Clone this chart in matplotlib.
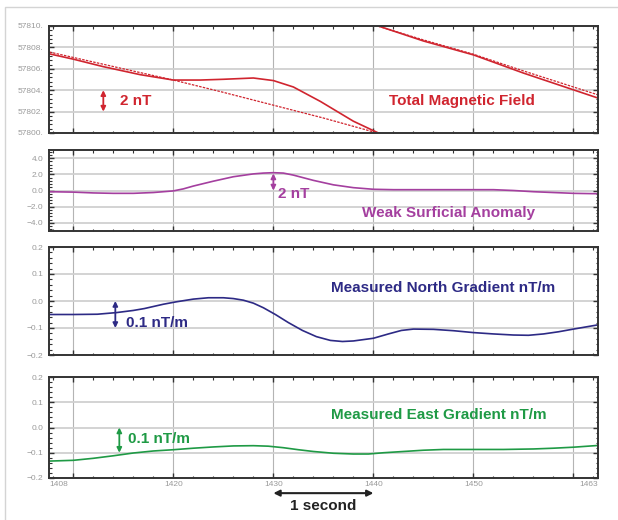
import matplotlib.pyplot as plt
from matplotlib.ticker import MultipleLocator, AutoMinorLocator, FuncFormatter
from matplotlib.patches import Rectangle

plt.rcParams['font.family'] = ['Liberation Sans', 'DejaVu Sans']

# fiducial range shown
x_min, x_max = 1407.57, 1462.45
x_grid = [1410, 1420, 1430, 1440, 1450, 1460]
x_ticklabels = ['', '1420', '1430', '1440', '1450', '']
x_end_labels = ['1408', '1463']

# total magnetic field (nT), measured and dashed trend
tmf_x = [1407.6, 1410, 1413, 1416.7, 1420, 1422.7, 1425, 1428, 1430, 1432,
         1434.7, 1438, 1440.5, 1445, 1450, 1455, 1462.5]
tmf_meas = [57807.4, 57806.9, 57806.2, 57805.45, 57804.95, 57804.95, 57805.02,
            57805.14, 57804.9, 57804.3, 57802.95, 57801.1, 57800.0, 57798.6,
            57797.3, 57795.6, 57793.25]
trend_x = [1407.6, 1415, 1420, 1425, 1430, 1435, 1440.4, 1445, 1450, 1455, 1462.5]
tmf_trend = [57807.57, 57806.0, 57804.95, 57803.8, 57802.6, 57801.4, 57800.0,
             57798.7, 57797.36, 57795.8, 57793.55]

# weak surficial anomaly (nT)
anom_x = [1407.6, 1410, 1412, 1414, 1416, 1418, 1420, 1421, 1422, 1424, 1426,
          1428, 1429, 1430, 1431, 1432, 1434, 1436, 1438, 1440, 1442, 1446,
          1450, 1452, 1454, 1456, 1458, 1460, 1462.5]
anom_y = [-0.15, -0.2, -0.3, -0.35, -0.35, -0.25, -0.05, 0.2, 0.55, 1.15, 1.7,
          2.05, 2.15, 2.2, 2.15, 1.9, 1.25, 0.7, 0.35, 0.15, 0.1, 0.1,
          0.1, 0.1, 0.0, -0.15, -0.25, -0.35, -0.4]

# measured north gradient (nT/m)
north_x = [1407.6, 1410, 1412.4, 1414.3, 1416, 1417.1, 1419, 1420.3, 1422,
           1423.5, 1425, 1426, 1427, 1428, 1429, 1430.2, 1431.5, 1432.9,
           1434.3, 1435.7, 1436.9, 1438, 1440, 1441.5, 1442.8, 1444, 1446,
           1448, 1450, 1452, 1454, 1455.5, 1457, 1458.5, 1460, 1462.5]
north_y = [-0.05, -0.05, -0.049, -0.043, -0.035, -0.028, -0.012, -0.003, 0.007,
           0.012, 0.012, 0.009, 0.003, -0.008, -0.025, -0.05, -0.08, -0.109,
           -0.132, -0.146, -0.15, -0.148, -0.138, -0.122, -0.109, -0.104, -0.105,
           -0.11, -0.117, -0.122, -0.126, -0.127, -0.122, -0.114, -0.104, -0.088]

# measured east gradient (nT/m)
east_x = [1407.6, 1410, 1412, 1414, 1416, 1418, 1420, 1422, 1424, 1426, 1428,
          1429.5, 1431, 1432.5, 1434, 1436, 1438, 1439.5, 1441, 1443, 1445,
          1447, 1450, 1453, 1456, 1458, 1460, 1462.5]
east_y = [-0.133, -0.13, -0.122, -0.112, -0.101, -0.093, -0.088, -0.082, -0.077,
          -0.073, -0.072, -0.074, -0.08, -0.088, -0.095, -0.102, -0.105, -0.105,
          -0.1, -0.095, -0.09, -0.087, -0.087, -0.087, -0.085, -0.082, -0.078,
          -0.071]

red = '#d0252f'
purple = '#a43f9f'
navy = '#2d2a85'
green = '#1f9a45'
label_font = ['Liberation Sans Narrow', 'Liberation Sans', 'DejaVu Sans']

fig = plt.figure(figsize=(6.18, 5.2), dpi=100)
fig.patches.append(Rectangle((5 / 618, -0.1), 1.2, 1 - 7 / 520 + 0.1,
                             transform=fig.transFigure, fill=False,
                             edgecolor='#d4d4d4', lw=1.0))

left, width = 49 / 618, 549 / 618
panels = [(133, 107), (231, 81), (355, 108), (478, 101)]  # bottom px, height px
axes = [fig.add_axes([left, (520 - b) / 520, width, h / 520]) for b, h in panels]


def style(ax, ylim, ymajor, fmt):
    ax.set_xlim(x_min, x_max)
    ax.set_ylim(*ylim)
    ax.set_xticks(x_grid)
    ax.xaxis.set_minor_locator(MultipleLocator(2))
    ax.yaxis.set_major_locator(MultipleLocator(ymajor))
    ax.yaxis.set_minor_locator(AutoMinorLocator(5))
    ax.yaxis.set_major_formatter(FuncFormatter(fmt))
    ax.grid(axis='x', color='#b4b4b4', lw=0.8)
    ax.grid(axis='y', color='#d0d0d0', lw=1.3)
    ax.tick_params(which='both', direction='in', top=True, right=True,
                   color='#333333')
    ax.tick_params(which='major', length=3.5, width=1.0)
    ax.tick_params(which='minor', length=1.8, width=0.8)
    ax.tick_params(axis='y', labelsize=6, labelcolor='#9a9a9a', pad=4)
    ax.tick_params(axis='x', labelsize=6, labelcolor='#9a9a9a', pad=2)
    ax.set_xticklabels([])
    for s in ax.spines.values():
        s.set_color('#333333')
        s.set_linewidth(1.4)


def double_arrow(ax, x, y0, y1, color):
    ax.annotate('', xy=(x, y0), xytext=(x, y1),
                arrowprops=dict(arrowstyle='<|-|>', color=color, lw=1.3,
                                mutation_scale=7, shrinkA=0, shrinkB=0))


# panel 1: total magnetic field, wrapped over a 10 nT window
ax = axes[0]
style(ax, (57800, 57810), 2, lambda v, p: f'{v:.0f}.')
for shift in (0, 10):
    ax.plot(tmf_x, [v + shift for v in tmf_meas], color=red, lw=1.2)
    ax.plot(trend_x, [v + shift for v in tmf_trend], color=red,
            lw=0.9, ls=(0, (2, 1)))
double_arrow(ax, 1413, 57802, 57804, red)
ax.text(1414.7, 57803.0, '2 nT', color=red, fontsize=11, fontweight='bold',
        va='center', family=label_font)
ax.text(1448.8, 57803.0, 'Total Magnetic Field', color=red, fontsize=11,
        fontweight='bold', va='center', ha='center', family=label_font)

# panel 2: weak surficial anomaly
ax = axes[1]
style(ax, (-5, 5), 2, lambda v, p: f'{v:.1f}'.replace('-', '\u2212'))
ax.plot(anom_x, anom_y, color=purple, lw=1.2)
double_arrow(ax, 1430, 0.0, 2.1, purple)
ax.text(1430.5, -0.4, '2 nT', color=purple, fontsize=11, fontweight='bold',
        va='center', family=label_font)
ax.text(1447.5, -2.8, 'Weak Surficial Anomaly', color=purple, fontsize=11,
        fontweight='bold', va='center', ha='center', family=label_font)

# panel 3: north gradient
ax = axes[2]
style(ax, (-0.2, 0.2), 0.1, lambda v, p: f'{v:.1f}'.replace('-', '\u2212'))
ax.plot(north_x, north_y, color=navy, lw=1.2)
double_arrow(ax, 1414.2, -0.1, 0.0, navy)
ax.text(1415.3, -0.082, '0.1 nT/m', color=navy, fontsize=11, fontweight='bold',
        va='center', family=label_font)
ax.text(1447, 0.05, 'Measured North Gradient nT/m', color=navy, fontsize=11,
        fontweight='bold', va='center', ha='center', family=label_font)

# panel 4: east gradient
ax = axes[3]
style(ax, (-0.2, 0.2), 0.1, lambda v, p: f'{v:.1f}'.replace('-', '\u2212'))
ax.plot(east_x, east_y, color=green, lw=1.2)
double_arrow(ax, 1414.6, -0.1, 0.0, green)
ax.text(1415.5, -0.045, '0.1 nT/m', color=green, fontsize=11, fontweight='bold',
        va='center', family=label_font)
ax.text(1446.5, 0.048, 'Measured East Gradient nT/m', color=green, fontsize=11,
        fontweight='bold', va='center', ha='center', family=label_font)
ax.set_xticklabels(x_ticklabels)
for xf, txt, ha in [(0, x_end_labels[0], 'left'), (1, x_end_labels[1], 'right')]:
    ax.text(xf, -0.03, txt, transform=ax.transAxes, fontsize=6,
            color='#9a9a9a', ha=ha, va='top')

# one second scale bar below the bottom panel
ax.annotate('', xy=(1430, -0.15), xytext=(1440, -0.15),
            xycoords=('data', 'axes fraction'),
            textcoords=('data', 'axes fraction'), annotation_clip=False,
            arrowprops=dict(arrowstyle='<|-|>', color='#222222', lw=1.5,
                            mutation_scale=9, shrinkA=0, shrinkB=0))
ax.text(1435, -0.28, '1 second', transform=ax.get_xaxis_transform(),
        ha='center', va='center', fontsize=11, fontweight='bold',
        color='#222222', family=label_font)

fig.savefig('out.png', dpi=100)
